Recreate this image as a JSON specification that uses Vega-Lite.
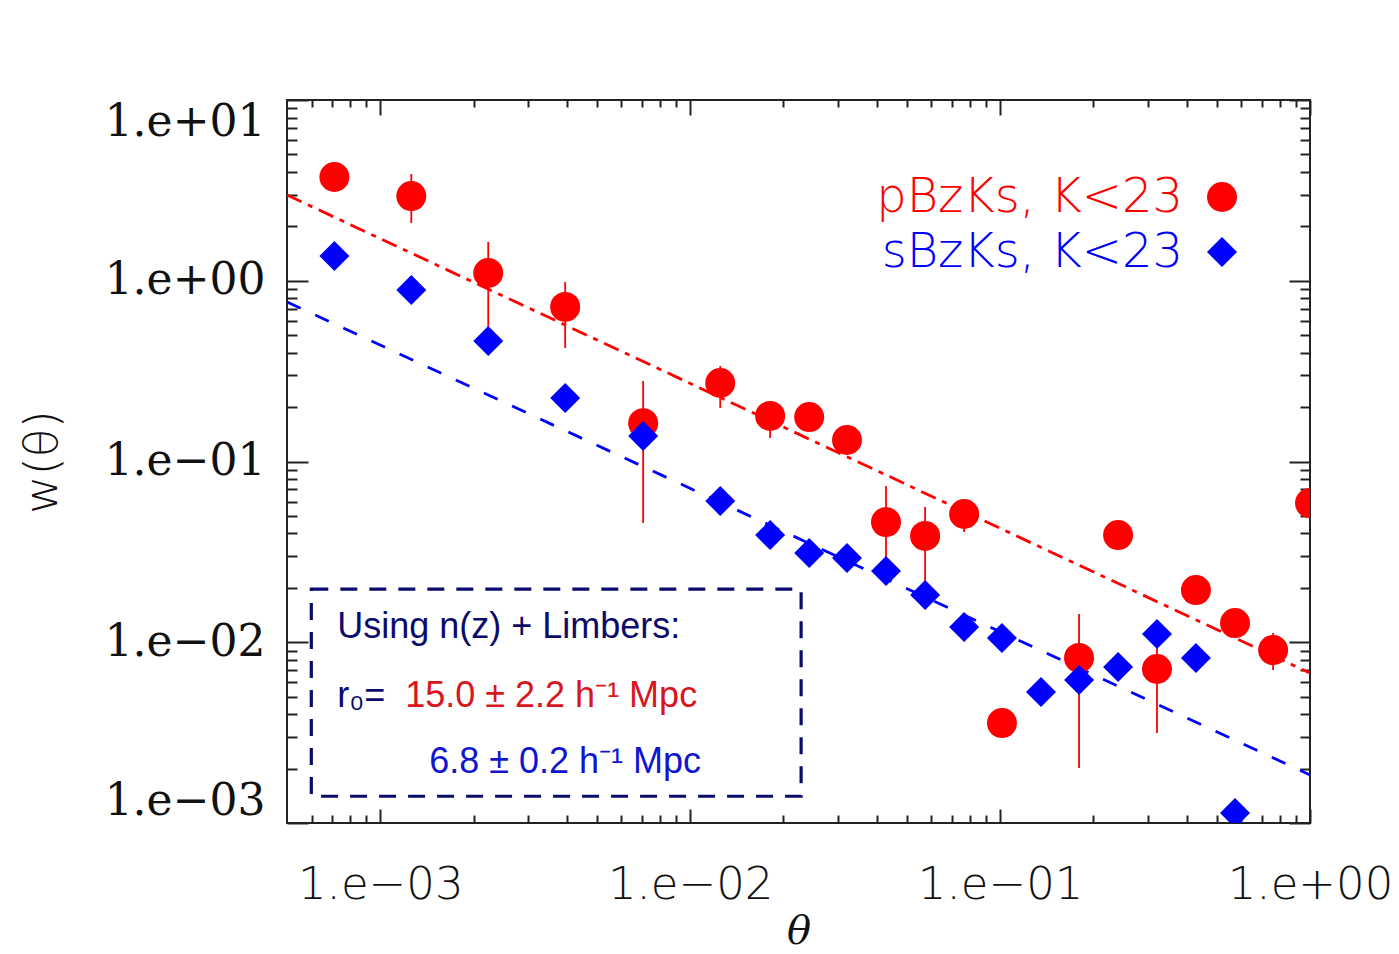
{
  "$schema": "https://vega.github.io/schema/vega-lite/v6.json",
  "width": 1023,
  "height": 723,
  "autosize": {"type": "none"},
  "padding": {"left": 287, "top": 100, "right": 89, "bottom": 131},
  "background": "white",
  "config": {
    "view": {"stroke": "#222", "strokeWidth": 2},
    "axis": {"grid": false, "domain": false, "tickColor": "#222", "tickWidth": 2, "labelColor": "#111", "titleColor": "#111", "titleFontWeight": "normal"}
  },
  "datasets": {
    "pts": [
      {"series": "pBzKs", "theta": 0.000711, "w": 3.75},
      {"series": "pBzKs", "theta": 0.001259, "w": 2.94},
      {"series": "pBzKs", "theta": 0.00223, "w": 1.104},
      {"series": "pBzKs", "theta": 0.00395, "w": 0.716},
      {"series": "pBzKs", "theta": 0.00705, "w": 0.163},
      {"series": "pBzKs", "theta": 0.0125, "w": 0.2718},
      {"series": "pBzKs", "theta": 0.01811, "w": 0.1786},
      {"series": "pBzKs", "theta": 0.02421, "w": 0.1762},
      {"series": "pBzKs", "theta": 0.03206, "w": 0.1315},
      {"series": "pBzKs", "theta": 0.04284, "w": 0.04624},
      {"series": "pBzKs", "theta": 0.05728, "w": 0.03873},
      {"series": "pBzKs", "theta": 0.07656, "w": 0.05124},
      {"series": "pBzKs", "theta": 0.1014, "w": 0.003573},
      {"series": "pBzKs", "theta": 0.1798, "w": 0.008185},
      {"series": "pBzKs", "theta": 0.2403, "w": 0.03918},
      {"series": "pBzKs", "theta": 0.3208, "w": 0.007112},
      {"series": "pBzKs", "theta": 0.4285, "w": 0.01945},
      {"series": "pBzKs", "theta": 0.5728, "w": 0.01277},
      {"series": "pBzKs", "theta": 0.7603, "w": 0.009056},
      {"series": "pBzKs", "theta": 1.0, "w": 0.05892},
      {"series": "sBzKs", "theta": 0.000711, "w": 1.371},
      {"series": "sBzKs", "theta": 0.001259, "w": 0.889},
      {"series": "sBzKs", "theta": 0.00223, "w": 0.4645},
      {"series": "sBzKs", "theta": 0.00395, "w": 0.2245},
      {"series": "sBzKs", "theta": 0.00705, "w": 0.1384},
      {"series": "sBzKs", "theta": 0.0125, "w": 0.06046},
      {"series": "sBzKs", "theta": 0.01811, "w": 0.03918},
      {"series": "sBzKs", "theta": 0.02421, "w": 0.03117},
      {"series": "sBzKs", "theta": 0.03206, "w": 0.02924},
      {"series": "sBzKs", "theta": 0.04284, "w": 0.02477},
      {"series": "sBzKs", "theta": 0.05728, "w": 0.01824},
      {"series": "sBzKs", "theta": 0.07656, "w": 0.01213},
      {"series": "sBzKs", "theta": 0.1014, "w": 0.01055},
      {"series": "sBzKs", "theta": 0.1355, "w": 0.005305},
      {"series": "sBzKs", "theta": 0.1798, "w": 0.00618},
      {"series": "sBzKs", "theta": 0.2403, "w": 0.007295},
      {"series": "sBzKs", "theta": 0.3208, "w": 0.01111},
      {"series": "sBzKs", "theta": 0.4285, "w": 0.008185},
      {"series": "sBzKs", "theta": 0.5728, "w": 0.001135}
    ],
    "err": [
      {"theta": 0.001259, "lo": 2.086, "hi": 3.896},
      {"theta": 0.00223, "lo": 0.501, "hi": 1.638},
      {"theta": 0.00395, "lo": 0.4245, "hi": 0.984},
      {"theta": 0.00705, "lo": 0.04571, "hi": 0.2789},
      {"theta": 0.0125, "lo": 0.1977, "hi": 0.3376},
      {"theta": 0.01811, "lo": 0.1349, "hi": 0.2162},
      {"theta": 0.02421, "lo": 0.1494, "hi": 0.2054},
      {"theta": 0.03206, "lo": 0.1129, "hi": 0.1532},
      {"theta": 0.04284, "lo": 0.02676, "hi": 0.07317},
      {"theta": 0.05728, "lo": 0.02073, "hi": 0.05601},
      {"theta": 0.07656, "lo": 0.04074, "hi": 0.06124},
      {"theta": 0.1798, "lo": 0.002015, "hi": 0.01433},
      {"theta": 0.3208, "lo": 0.003148, "hi": 0.009412},
      {"theta": 0.5728, "lo": 0.0108, "hi": 0.015},
      {"theta": 0.7603, "lo": 0.007024, "hi": 0.01125}
    ],
    "fits": [
      {"series": "pBzKs", "theta": 0.0005, "w": 2.98},
      {"series": "pBzKs", "theta": 1.0, "w": 0.00675},
      {"series": "sBzKs", "theta": 0.0005, "w": 0.763},
      {"series": "sBzKs", "theta": 1.0, "w": 0.001845}
    ],
    "box": [
      {"x1": 0.000599, "x2": 0.0228, "y1": 0.001406, "y2": 0.01968}
    ],
    "notes": [
      {"grp": "note", "text": "Using n(z) + Limbers:", "theta": 0.0007263, "w": 0.010556},
      {"grp": "note", "text": "r₀=", "theta": 0.0007263, "w": 0.004383},
      {"grp": "p", "text": "15.0 ± 2.2 h⁻¹ Mpc", "theta": 0.0012036, "w": 0.004383},
      {"grp": "s", "text": "6.8 ± 0.2 h⁻¹ Mpc", "theta": 0.0014384, "w": 0.001891}
    ],
    "legtext": [
      {"grp": "legP", "text": "pBzKs, K<23", "theta": 0.3894, "w": 2.401},
      {"grp": "legS", "text": "sBzKs, K<23", "theta": 0.3894, "w": 1.1915}
    ],
    "legsym": [
      {"series": "pBzKs", "theta": 0.5201, "w": 2.907},
      {"series": "sBzKs", "theta": 0.5201, "w": 1.442}
    ]
  },
  "resolve": {"axis": {"x": "independent", "y": "independent"}},
  "layer": [
    {
      "data": {"name": "fits"},
      "transform": [{"filter": "datum.series === 'pBzKs'"}],
      "mark": {"type": "line", "color": "#ff0000", "strokeWidth": 2.8, "strokeDash": [16, 7, 5, 7], "clip": true},
      "encoding": {
        "x": {"field": "theta", "type": "quantitative", "scale": {"type": "log", "domain": [0.0005, 1], "nice": false},
          "axis": {"orient": "bottom", "values": [0.001, 0.01, 0.1, 1], "tickSize": -14,
            "labelExpr": "datum.value < 0.005 ? '1.e−03' : datum.value < 0.05 ? '1.e−02' : datum.value < 0.5 ? '1.e−01' : '1.e+00'",
            "labelFont": "DejaVu Sans", "labelFontSize": 45, "labelFontWeight": 200, "labelPadding": 53, "labelFlush": false, "labelOverlap": false,
            "title": "θ", "titleFont": "DejaVu Serif", "titleFontStyle": "italic", "titleFontSize": 40, "titlePadding": 4}},
        "y": {"field": "w", "type": "quantitative", "scale": {"type": "log", "domain": [0.001, 10], "nice": false},
          "axis": {"orient": "left", "values": [0.001, 0.01, 0.1, 1, 10], "tickSize": -21,
            "labelExpr": "datum.value < 0.005 ? '1.e−03' : datum.value < 0.05 ? '1.e−02' : datum.value < 0.5 ? '1.e−01' : datum.value < 5 ? '1.e+00' : '1.e+01'",
            "labelFont": "DejaVu Serif", "labelFontSize": 44, "labelPadding": 43, "labelFlush": true, "labelOverlap": false,
            "title": "w(θ)", "titleFont": "DejaVu Sans", "titleFontSize": 47, "titleFontWeight": 200, "titlePadding": 38}}
      }
    },
    {
      "data": {"name": "fits"},
      "transform": [{"filter": "datum.series === 'sBzKs'"}],
      "mark": {"type": "line", "color": "#0000ff", "strokeWidth": 2.8, "strokeDash": [15, 16], "clip": true},
      "encoding": {
        "x": {"field": "theta", "type": "quantitative", "scale": {"type": "log", "domain": [0.0005, 1], "nice": false},
          "axis": {"orient": "bottom", "values": [0.0006, 0.0007, 0.0008, 0.0009, 0.002, 0.003, 0.004, 0.005, 0.006, 0.007, 0.008, 0.009, 0.02, 0.03, 0.04, 0.05, 0.06, 0.07, 0.08, 0.09, 0.2, 0.3, 0.4, 0.5, 0.6, 0.7, 0.8, 0.9], "tickSize": -8, "labels": false, "title": null}},
        "y": {"field": "w", "type": "quantitative", "scale": {"type": "log", "domain": [0.001, 10], "nice": false},
          "axis": {"orient": "left", "values": [0.002, 0.003, 0.004, 0.005, 0.006, 0.007, 0.008, 0.009, 0.02, 0.03, 0.04, 0.05, 0.06, 0.07, 0.08, 0.09, 0.2, 0.3, 0.4, 0.5, 0.6, 0.7, 0.8, 0.9, 2, 3, 4, 5, 6, 7, 8, 9], "tickSize": -10, "labels": false, "title": null}}
      }
    },
    {
      "data": {"name": "err"},
      "mark": {"type": "rule", "color": "#ff0000", "strokeWidth": 1.8, "clip": true},
      "encoding": {
        "x": {"field": "theta", "type": "quantitative", "scale": {"type": "log", "domain": [0.0005, 1], "nice": false},
          "axis": {"orient": "top", "values": [0.001, 0.01, 0.1, 1], "tickSize": -15, "labels": false, "title": null}},
        "y": {"field": "lo", "type": "quantitative", "scale": {"type": "log", "domain": [0.001, 10], "nice": false},
          "axis": {"orient": "right", "values": [0.001, 0.01, 0.1, 1, 10], "tickSize": -21, "labels": false, "title": null}},
        "y2": {"field": "hi"}
      }
    },
    {
      "data": {"name": "pts"},
      "transform": [{"filter": "datum.series === 'pBzKs'"}],
      "mark": {"type": "point", "shape": "circle", "filled": true, "size": 900, "color": "#ff0000", "opacity": 1, "clip": true},
      "encoding": {
        "x": {"field": "theta", "type": "quantitative", "scale": {"type": "log", "domain": [0.0005, 1], "nice": false},
          "axis": {"orient": "top", "values": [0.0006, 0.0007, 0.0008, 0.0009, 0.002, 0.003, 0.004, 0.005, 0.006, 0.007, 0.008, 0.009, 0.02, 0.03, 0.04, 0.05, 0.06, 0.07, 0.08, 0.09, 0.2, 0.3, 0.4, 0.5, 0.6, 0.7, 0.8, 0.9], "tickSize": -7, "labels": false, "title": null}},
        "y": {"field": "w", "type": "quantitative", "scale": {"type": "log", "domain": [0.001, 10], "nice": false},
          "axis": {"orient": "right", "values": [0.002, 0.003, 0.004, 0.005, 0.006, 0.007, 0.008, 0.009, 0.02, 0.03, 0.04, 0.05, 0.06, 0.07, 0.08, 0.09, 0.2, 0.3, 0.4, 0.5, 0.6, 0.7, 0.8, 0.9, 2, 3, 4, 5, 6, 7, 8, 9], "tickSize": -10, "labels": false, "title": null}}
      }
    },
    {
      "data": {"name": "pts"},
      "transform": [{"filter": "datum.series === 'sBzKs'"}],
      "mark": {"type": "point", "shape": "diamond", "filled": true, "size": 900, "color": "#0000ff", "opacity": 1, "clip": true},
      "encoding": {
        "x": {"field": "theta", "type": "quantitative", "scale": {"type": "log", "domain": [0.0005, 1], "nice": false}, "axis": null},
        "y": {"field": "w", "type": "quantitative", "scale": {"type": "log", "domain": [0.001, 10], "nice": false}, "axis": null}
      }
    },
    {
      "data": {"name": "box"},
      "mark": {"type": "rect", "filled": false, "stroke": "#0b0b6b", "strokeWidth": 3.2, "strokeDash": [17, 12]},
      "encoding": {
        "x": {"field": "x1", "type": "quantitative", "scale": {"type": "log", "domain": [0.0005, 1], "nice": false}, "axis": null},
        "x2": {"field": "x2"},
        "y": {"field": "y1", "type": "quantitative", "scale": {"type": "log", "domain": [0.001, 10], "nice": false}, "axis": null},
        "y2": {"field": "y2"}
      }
    },
    {
      "data": {"name": "notes"},
      "mark": {"type": "text", "align": "left", "baseline": "alphabetic", "font": "Liberation Sans", "fontSize": 36},
      "encoding": {
        "x": {"field": "theta", "type": "quantitative", "scale": {"type": "log", "domain": [0.0005, 1], "nice": false}, "axis": null},
        "y": {"field": "w", "type": "quantitative", "scale": {"type": "log", "domain": [0.001, 10], "nice": false}, "axis": null},
        "text": {"field": "text"},
        "color": {"field": "grp", "type": "nominal", "scale": {"domain": ["note", "p", "s", "legP", "legS"], "range": ["#0b0b6b", "#d81620", "#1015d0", "#ff0000", "#0000ff"]}, "legend": null}
      }
    },
    {
      "data": {"name": "legtext"},
      "mark": {"type": "text", "align": "right", "baseline": "alphabetic", "font": "DejaVu Sans", "fontSize": 48, "fontWeight": 200},
      "encoding": {
        "x": {"field": "theta", "type": "quantitative", "scale": {"type": "log", "domain": [0.0005, 1], "nice": false}, "axis": null},
        "y": {"field": "w", "type": "quantitative", "scale": {"type": "log", "domain": [0.001, 10], "nice": false}, "axis": null},
        "text": {"field": "text"},
        "color": {"field": "grp", "type": "nominal", "scale": {"domain": ["note", "p", "s", "legP", "legS"], "range": ["#0b0b6b", "#d81620", "#1015d0", "#ff0000", "#0000ff"]}, "legend": null}
      }
    },
    {
      "data": {"name": "legsym"},
      "transform": [{"filter": "datum.series === 'pBzKs'"}],
      "mark": {"type": "point", "shape": "circle", "filled": true, "size": 900, "color": "#ff0000", "opacity": 1},
      "encoding": {
        "x": {"field": "theta", "type": "quantitative", "scale": {"type": "log", "domain": [0.0005, 1], "nice": false}, "axis": null},
        "y": {"field": "w", "type": "quantitative", "scale": {"type": "log", "domain": [0.001, 10], "nice": false}, "axis": null}
      }
    },
    {
      "data": {"name": "legsym"},
      "transform": [{"filter": "datum.series === 'sBzKs'"}],
      "mark": {"type": "point", "shape": "diamond", "filled": true, "size": 900, "color": "#0000ff", "opacity": 1},
      "encoding": {
        "x": {"field": "theta", "type": "quantitative", "scale": {"type": "log", "domain": [0.0005, 1], "nice": false}, "axis": null},
        "y": {"field": "w", "type": "quantitative", "scale": {"type": "log", "domain": [0.001, 10], "nice": false}, "axis": null}
      }
    }
  ]
}
